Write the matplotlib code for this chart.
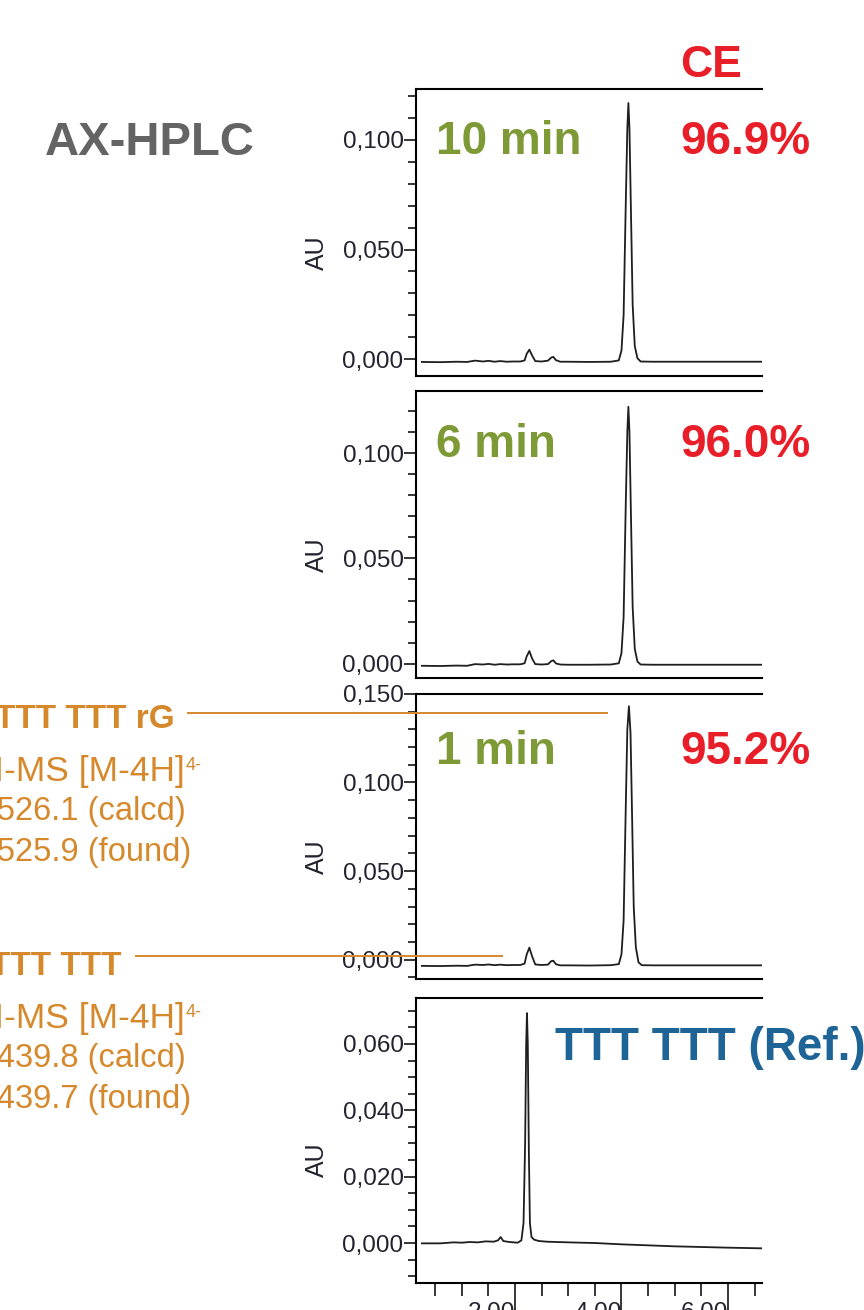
import matplotlib.pyplot as plt
from matplotlib.ticker import MultipleLocator, FixedLocator, FuncFormatter
from matplotlib.lines import Line2D

plt.rcParams['font.family'] = ['Liberation Sans', 'DejaVu Sans']

# AX-HPLC traces, retention time (min) vs absorbance (AU)
t_10min = [0.25, 0.6, 0.9, 1.1, 1.25, 1.4, 1.5, 1.62, 1.72, 1.85, 1.95, 2.1, 2.18, 2.22, 2.27,
           2.32, 2.38, 2.5, 2.62, 2.68, 2.72, 2.77, 2.85, 3.0, 3.4, 3.8, 3.95, 4.0, 4.04, 4.08,
           4.11, 4.13, 4.15, 4.18, 4.21, 4.25, 4.30, 4.36, 4.6, 5.0, 5.5, 6.0, 6.64]
au_10min = [-0.0012, -0.0013, -0.0011, -0.0012, -0.0006, -0.0010, -0.0007, -0.0011, -0.0008,
            -0.0011, -0.0010, -0.0010, -0.0005, 0.0025, 0.0044, 0.0018, -0.0008, -0.0010,
            -0.0006, 0.0008, 0.0011, -0.0004, -0.0011, -0.0011, -0.0012, -0.0011, -0.0005,
            0.004, 0.020, 0.070, 0.105, 0.1167, 0.105, 0.065, 0.025, 0.006, 0.0005, -0.0010,
            -0.0011, -0.0011, -0.0011, -0.0011, -0.0011]

t_6min = [0.25, 0.6, 0.9, 1.1, 1.25, 1.4, 1.5, 1.62, 1.72, 1.85, 1.95, 2.1, 2.18, 2.22, 2.27,
          2.32, 2.38, 2.5, 2.62, 2.68, 2.72, 2.77, 2.85, 3.0, 3.4, 3.8, 3.95, 4.0, 4.04, 4.08,
          4.11, 4.13, 4.15, 4.18, 4.21, 4.25, 4.30, 4.36, 4.6, 5.0, 5.5, 6.0, 6.64]
au_6min = [-0.0010, -0.0011, -0.0009, -0.0010, -0.0002, -0.0004, -0.0001, -0.0005, -0.0002,
           -0.0004, -0.0003, -0.0003, 0.0002, 0.0035, 0.0060, 0.0025, -0.0002, -0.0004,
           -0.0002, 0.0012, 0.0016, 0.0001, -0.0004, -0.0005, -0.0005, -0.0004, 0.0002,
           0.005, 0.022, 0.075, 0.110, 0.1220, 0.110, 0.068, 0.027, 0.007, 0.0010, -0.0004,
           -0.0005, -0.0005, -0.0005, -0.0005, -0.0005]

t_1min = [0.25, 0.6, 0.9, 1.1, 1.25, 1.4, 1.5, 1.62, 1.72, 1.85, 1.95, 2.1, 2.18, 2.22, 2.27,
          2.32, 2.38, 2.5, 2.62, 2.68, 2.72, 2.77, 2.85, 3.0, 3.4, 3.8, 3.95, 4.0, 4.04, 4.08,
          4.11, 4.14, 4.17, 4.20, 4.23, 4.27, 4.32, 4.38, 4.6, 5.0, 5.5, 6.0, 6.64]
au_1min = [-0.0035, -0.0036, -0.0034, -0.0035, -0.0028, -0.0030, -0.0027, -0.0031, -0.0028,
           -0.0031, -0.0030, -0.0030, -0.0022, 0.0030, 0.0068, 0.0020, -0.0027, -0.0030,
           -0.0028, -0.0008, -0.0006, -0.0026, -0.0032, -0.0032, -0.0033, -0.0031, -0.0025,
           0.003, 0.022, 0.085, 0.130, 0.1430, 0.128, 0.080, 0.030, 0.007, -0.0015, -0.0031,
           -0.0032, -0.0032, -0.0032, -0.0032, -0.0032]

t_ref = [0.25, 0.6, 0.85, 1.0, 1.15, 1.3, 1.45, 1.6, 1.68, 1.73, 1.78, 1.9, 2.05, 2.12, 2.16,
         2.19, 2.21, 2.225, 2.24, 2.26, 2.28, 2.31, 2.36, 2.45, 2.6, 3.0, 3.5, 4.0, 4.5, 5.0,
         5.5, 6.0, 6.64]
au_ref = [-0.0001, -0.0001, 0.0002, 0.0001, 0.0003, 0.0002, 0.0005, 0.0004, 0.0008, 0.0018,
          0.0006, 0.0003, 0.0001, 0.0008, 0.006, 0.030, 0.060, 0.0693, 0.060, 0.028, 0.006,
          0.0018, 0.0010, 0.0006, 0.0004, 0.0002, 0.0, -0.0004, -0.0007, -0.0010, -0.0012,
          -0.0014, -0.0016]

panels = [
    dict(t=t_10min, au=au_10min, ylim=(-0.0076, 0.1231), major=0.05, minor=0.01,
         top=89, bottom=376),
    dict(t=t_6min, au=au_6min, ylim=(-0.0068, 0.1295), major=0.05, minor=0.01,
         top=391, bottom=678),
    dict(t=t_1min, au=au_1min, ylim=(-0.0109, 0.1502), major=0.05, minor=0.01,
         top=693.5, bottom=979),
    dict(t=t_ref, au=au_ref, ylim=(-0.0119, 0.0740), major=0.02, minor=0.005,
         top=997.5, bottom=1282.5),
]

x_major = [2, 4, 6]
x_major_labels = ['2,00', '4,00', '6,00']
x_minor = [0.5, 1.0, 1.5, 2.5, 3.0, 3.5, 4.5, 5.0, 5.5, 6.5]

W, H = 864, 1310
f = plt.figure(figsize=[W / 100, H / 100], dpi=100)

ax_left, ax_right = 416, 762
tick_col = '#23232f'
for i, p in enumerate(panels):
    ax = f.add_axes([ax_left / W, 1 - p['bottom'] / H, (ax_right - ax_left) / W,
                     (p['bottom'] - p['top']) / H])
    ax.plot(p['t'], p['au'], color='#1e1e1e', lw=1.3)
    ax.set_xlim(0.14, 6.64)
    ax.set_ylim(*p['ylim'])
    ax.spines['right'].set_visible(False)
    for s in ['left', 'top', 'bottom']:
        ax.spines[s].set_linewidth(1.5)
    ax.yaxis.set_major_locator(MultipleLocator(p['major']))
    ax.yaxis.set_minor_locator(MultipleLocator(p['minor']))
    ax.yaxis.set_major_formatter(FuncFormatter(lambda v, pos: f'{v:.3f}'.replace('.', ',')))
    ax.tick_params(axis='y', which='major', length=9, width=1.1, pad=0,
                   labelsize=17.5, labelcolor=tick_col)
    ax.tick_params(axis='y', which='minor', length=5.5, width=1.1)
    ax.set_ylabel('AU', fontsize=18, color=tick_col)
    ax.yaxis.set_label_coords(-0.253, 0.43)
    if i < 3:
        ax.set_xticks([])
    else:
        ax.xaxis.set_major_locator(FixedLocator(x_major))
        ax.xaxis.set_minor_locator(FixedLocator(x_minor))
        ax.set_xticklabels(x_major_labels, ha='right')
        ax.tick_params(axis='x', which='major', length=20, width=1.1, pad=-6,
                       labelsize=17.5, labelcolor=tick_col)
        ax.tick_params(axis='x', which='minor', length=9, width=1.1)


def fx(px):
    return px / W


def fy(py):
    return 1 - py / H


green = '#7d9a37'
red = '#e81e28'
blue = '#1e6496'
orange = '#d6892c'
bold = dict(fontweight='bold', va='baseline')
plain = dict(va='baseline')

f.text(fx(150), fy(155), 'AX-HPLC', color='#646464', fontsize=34, ha='center', **bold)
f.text(fx(711), fy(77), 'CE', color=red, fontsize=32, ha='center', **bold)

run_labels = ['10 min', '6 min', '1 min']
purities = ['96.9%', '96.0%', '95.2%']
baselines = [154, 457, 764]
for lab, pur, yb in zip(run_labels, purities, baselines):
    f.text(fx(436), fy(yb), lab, color=green, fontsize=33, ha='left', **bold)
    f.text(fx(680), fy(yb), pur, color=red, fontsize=33, ha='left', **bold)

f.text(fx(555), fy(1060), 'TTT TTT (Ref.)', color=blue, fontsize=33, ha='left', **bold)

# mass annotations on the left, joined to their peaks
ms_blocks = [
    dict(name='TTT TTT rG', name_x=175, y0=728, calcd='m/z 526.1 (calcd)',
         found='m/z 525.9 (found)', line=(188, 607, 712.5)),
    dict(name='TTT TTT', name_x=121, y0=975, calcd='m/z 439.8 (calcd)',
         found='m/z 439.7 (found)', line=(136, 502, 956)),
]
for b in ms_blocks:
    y0 = b['y0']
    f.text(fx(b['name_x']), fy(y0), b['name'], color=orange, fontsize=24, ha='right', **bold)
    f.text(fx(185), fy(y0 + 53), 'ESI-MS [M-4H]', color=orange, fontsize=25.5,
           ha='right', **plain)
    f.text(fx(186), fy(y0 + 42), '4-', color=orange, fontsize=13, ha='left', **plain)
    f.text(fx(186), fy(y0 + 92), b['calcd'], color=orange, fontsize=23.5, ha='right', **plain)
    f.text(fx(191), fy(y0 + 133), b['found'], color=orange, fontsize=23.5, ha='right', **plain)
    x0, x1, yl = b['line']
    f.add_artist(Line2D([fx(x0), fx(x1)], [fy(yl), fy(yl)], color=orange, lw=1.4,
                        transform=f.transFigure))

plt.savefig('out.png', dpi=100)
